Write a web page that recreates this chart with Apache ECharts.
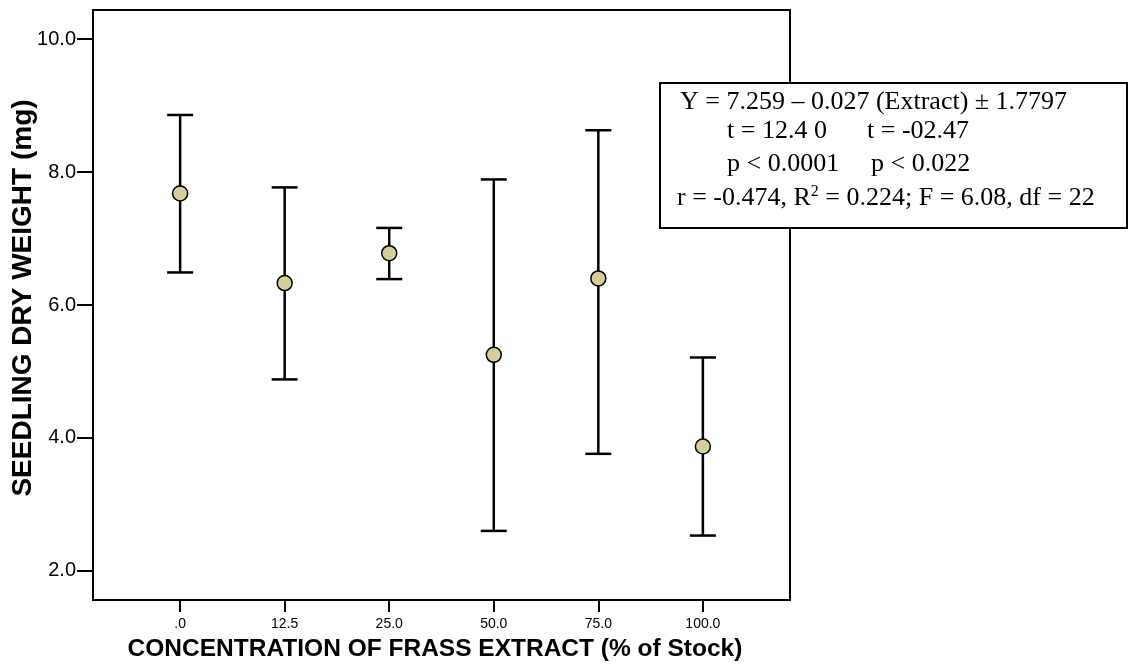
<!DOCTYPE html>
<html>
<head>
<meta charset="utf-8">
<script src="https://cdn.jsdelivr.net/npm/echarts@6/dist/echarts.min.js"></script>
<style>
  html, body { margin: 0; padding: 0; background: #fff; }
  #chart { width: 1128px; height: 664px; }
</style>
</head>
<body>
<div id="chart"></div>
<script>
// frass extract concentration groups
const concentrations = ['.0', '12.5', '25.0', '50.0', '75.0', '100.0'];
const means = [7.68, 6.33, 6.78, 5.25, 6.40, 3.87];
const upper = [8.86, 7.77, 7.16, 7.89, 8.63, 5.21];
const lower = [6.49, 4.88, 6.39, 2.60, 3.76, 2.53];
const yTicks = [2, 4, 6, 8, 10];

const chart = echarts.init(document.getElementById('chart'));

const sans = 'Liberation Sans';
const serif = 'Liberation Serif';
const idx = concentrations.map((c, i) => i);

// regression summary box, one entry per text run
const statLines = [
  {x: 680, y: 102, text: 'Y = 7.259 – 0.027 (Extract) ± 1.7797'},
  {x: 727, y: 131, text: 't = 12.4 0'},
  {x: 867, y: 131, text: 't = -02.47'},
  {x: 727, y: 164, text: 'p < 0.0001'},
  {x: 871, y: 164, text: 'p < 0.022'},
];

const option = {
  animation: false,
  grid: {
    left: 93, top: 10, right: 338, bottom: 64,
    outerBoundsMode: 'none',
    containLabel: false,
    show: true, borderColor: '#000', borderWidth: 2
  },
  xAxis: {
    type: 'value',
    min: -0.8333, max: 5.8333,
    name: 'CONCENTRATION OF FRASS EXTRACT (% of Stock)',
    nameLocation: 'middle', nameGap: 37, nameMoveOverlap: false,
    nameTextStyle: {fontFamily: sans, fontWeight: 'bold', fontSize: 24.5, color: '#000', padding: [0, 13, 0, 0]},
    axisLine: {onZero: false, lineStyle: {color: '#000', width: 2}},
    axisTick: {customValues: idx, length: 12, lineStyle: {color: '#000', width: 2}},
    axisLabel: {
      customValues: idx, margin: 17,
      fontFamily: sans, fontSize: 14, color: '#000',
      formatter: v => concentrations[Math.round(v)]
    },
    splitLine: {show: false}
  },
  yAxis: {
    type: 'value',
    min: 1.56, max: 10.44,
    name: 'SEEDLING DRY WEIGHT (mg)',
    nameLocation: 'middle', nameGap: 56, nameMoveOverlap: false,
    nameTextStyle: {fontFamily: sans, fontWeight: 'bold', fontSize: 28, color: '#000', padding: [0, 0, 0, 14]},
    axisLine: {onZero: false, lineStyle: {color: '#000', width: 2}},
    axisTick: {customValues: yTicks, length: 16, lineStyle: {color: '#000', width: 2}},
    axisLabel: {
      customValues: yTicks, margin: 17,
      fontFamily: sans, fontSize: 20, color: '#000',
      formatter: v => v.toFixed(1)
    },
    splitLine: {show: false}
  },
  series: [
    {
      type: 'custom',
      data: idx.map(i => [i, upper[i], lower[i]]),
      renderItem: (params, api) => {
        const x = api.value(0);
        const hi = api.coord([x, api.value(1)]);
        const lo = api.coord([x, api.value(2)]);
        const cap = 13;
        const st = {stroke: '#000', lineWidth: 2.5};
        return {
          type: 'group',
          children: [
            {type: 'line', shape: {x1: hi[0], y1: hi[1], x2: lo[0], y2: lo[1]}, style: st},
            {type: 'line', shape: {x1: hi[0] - cap, y1: hi[1], x2: hi[0] + cap, y2: hi[1]}, style: st},
            {type: 'line', shape: {x1: lo[0] - cap, y1: lo[1], x2: lo[0] + cap, y2: lo[1]}, style: st}
          ]
        };
      },
      z: 1
    },
    {
      type: 'scatter',
      data: idx.map(i => [i, means[i]]),
      symbol: 'circle',
      symbolSize: 15,
      itemStyle: {color: '#d6cf9b', borderColor: '#000', borderWidth: 1.5, opacity: 1},
      z: 3
    }
  ],
  graphic: [
    {
      type: 'rect', left: 659, top: 82, z: 10,
      shape: {width: 467, height: 145},
      style: {fill: '#fff', stroke: '#000', lineWidth: 2}
    },
    ...statLines.map(l => ({
      type: 'text', x: l.x, y: l.y, z: 11,
      style: {text: l.text, font: '26px "' + serif + '"', fill: '#000', verticalAlign: 'middle'}
    })),
    {
      type: 'text', x: 677, y: 198, z: 11,
      style: {
        text: '{n|r = -0.474, R}{s|2}{n| = 0.224; F = 6.08, df = 22}',
        fill: '#000',
        verticalAlign: 'middle',
        rich: {
          n: {fontFamily: serif, fontSize: 26, lineHeight: 28, color: '#000'},
          s: {fontFamily: serif, fontSize: 16, lineHeight: 16, verticalAlign: 'top', color: '#000'}
        }
      }
    }
  ]
};

chart.setOption(option);
</script>
</body>
</html>
